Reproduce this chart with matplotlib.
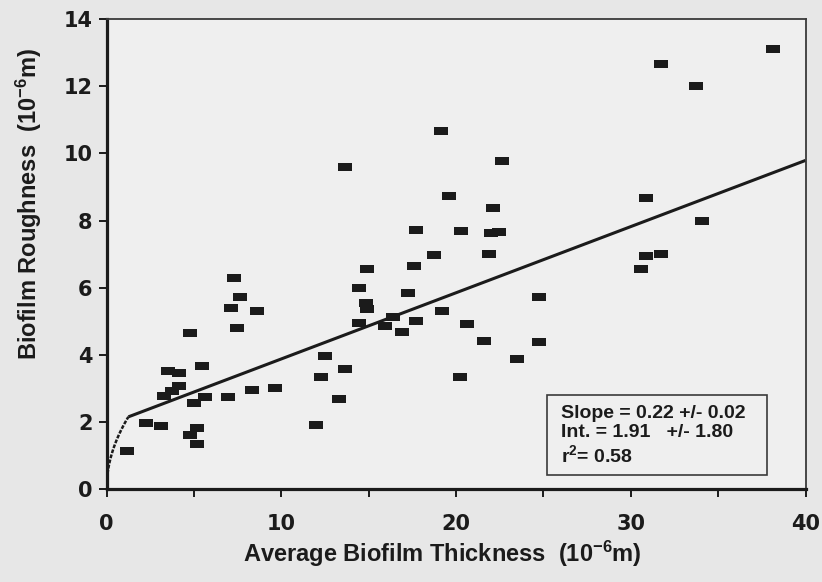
import numpy as np
import matplotlib
matplotlib.use("Agg")
import matplotlib.pyplot as plt
from matplotlib.patches import Rectangle
from matplotlib.path import Path

plt.rcParams["font.family"] = ["Liberation Sans", "DejaVu Sans"]
plt.rcParams["font.weight"] = "bold"
plt.rcParams["axes.labelweight"] = "bold"
plt.rcParams["mathtext.fontset"] = "custom"
plt.rcParams["mathtext.rm"] = "Liberation Sans:bold"
plt.rcParams["mathtext.it"] = "Liberation Sans:bold"
plt.rcParams["mathtext.bf"] = "Liberation Sans:bold"
plt.rcParams["mathtext.default"] = "rm"

# Average biofilm thickness (1e-6 m) and roughness (1e-6 m)
thickness = [1.17, 2.26, 3.11, 3.50, 4.15, 3.31, 3.76, 4.17, 4.78, 4.98, 5.45,
             5.63, 4.76, 5.16, 5.16, 6.97, 7.12, 7.30, 7.63, 7.44, 8.60, 8.31,
             9.64, 11.98, 12.49, 12.30, 13.28, 13.64, 13.66, 14.45, 14.93, 14.83,
             14.93, 14.44, 15.93, 16.41, 16.92, 17.25, 17.72, 17.72, 17.58, 18.74,
             19.15, 19.59, 20.28, 19.20, 20.61, 20.22, 21.58, 21.90, 22.12, 22.00,
             22.45, 22.64, 23.47, 24.76, 24.76, 30.56, 30.88, 30.88, 31.70, 31.74,
             33.74, 34.05, 38.13]
roughness = [1.14, 1.98, 1.89, 3.51, 3.46, 2.77, 2.92, 3.07, 4.64, 2.57, 3.67,
             2.75, 1.61, 1.82, 1.34, 2.74, 5.40, 6.28, 5.72, 4.79, 5.31, 2.95,
             3.01, 1.92, 3.97, 3.35, 2.69, 3.58, 9.58, 5.99, 6.55, 5.56,
             5.36, 4.94, 4.87, 5.12, 4.69, 5.85, 5.01, 7.72, 6.65, 6.97,
             10.68, 8.72, 7.69, 5.30, 4.93, 3.34, 4.42, 6.99, 8.36, 7.64,
             7.66, 9.78, 3.87, 5.73, 4.37, 6.55, 6.94, 8.68, 6.99, 12.66,
             11.99, 7.99, 13.11]

# Fitted trend: straight line above the knee, square-root rise from the origin below it
fit_intercept = 1.91
fit_slope = 0.197
knee_x = 1.25
x_max = 40

stats_lines = ["Slope = 0.22 +/- 0.02", "Int. = 1.91   +/- 1.80", r"r$^{2}$= 0.58"]

x_ticks = [0, 10, 20, 30, 40]
x_minor = [5, 15, 25, 35]
y_ticks = [0, 2, 4, 6, 8, 10, 12, 14]

INK = "#1b1b1b"
TICKFONT = dict(fontfamily="DejaVu Sans", fontweight="bold", fontsize=15, color=INK)

fig = plt.figure(figsize=(8.22, 5.82), dpi=100, facecolor="#e7e7e7")
ax = fig.add_axes([0.1296, 0.1593, 0.8504, 0.8081], facecolor="#efefef")

# rectangular marker, wider than tall
rect = Path([(-1, -0.6), (1, -0.6), (1, 0.6), (-1, 0.6), (-1, -0.6)],
            [Path.MOVETO, Path.LINETO, Path.LINETO, Path.LINETO, Path.CLOSEPOLY])
ax.plot(thickness, roughness, linestyle="none", marker=rect, markersize=9.8,
        color=INK, markeredgewidth=0, zorder=3)

knee_y = fit_intercept + fit_slope * knee_x
xs_curve = np.linspace(0, knee_x, 60)
ax.plot(xs_curve, knee_y * np.sqrt(xs_curve / knee_x), color=INK,
        lw=1.8, linestyle=(0, (1.5, 0.6)), zorder=2)
xs_line = np.array([knee_x, x_max])
ax.plot(xs_line, fit_intercept + fit_slope * xs_line, color=INK,
        lw=2.2, solid_capstyle="butt", zorder=2)

ax.set_xlim(0, 40)
ax.set_ylim(0, 14)
ax.set_xticks(x_ticks, labels=[str(v) for v in x_ticks], **TICKFONT)
ax.set_xticks(x_minor, minor=True)
ax.set_yticks(y_ticks, labels=[str(v) for v in y_ticks], **TICKFONT)
ax.tick_params(axis="both", which="both", direction="out", length=6, width=1.4,
               color=INK)
ax.tick_params(axis="x", pad=12)
ax.tick_params(axis="y", pad=4)

for side in ("left", "bottom"):
    ax.spines[side].set_linewidth(2.3)
    ax.spines[side].set_color(INK)
for side in ("top", "right"):
    ax.spines[side].set_linewidth(1.3)
    ax.spines[side].set_color("#3a3a3a")

ax.set_xlabel(r"Average Biofilm Thickness  (10$^{-6}$m)", fontsize=17,
              fontweight="bold", color=INK, labelpad=3)
ax.set_ylabel(r"Biofilm Roughness  (10$^{-6}$m)", fontsize=17,
              fontweight="bold", color=INK, labelpad=14)
ax.xaxis.label.set_x(0.48)
ax.yaxis.label.set_y(0.607)

# statistics box
ax.add_patch(Rectangle((0.6305, 0.0305), 0.3145, 0.1705, transform=ax.transAxes,
                       facecolor="none", edgecolor="#3a3a3a", lw=1.2, zorder=4))
ax.text(0.65, 0.18, "\n".join(stats_lines), transform=ax.transAxes,
        fontsize=14, fontweight="bold", color=INK, va="top", ha="left",
        linespacing=1.17, zorder=5)

fig.savefig("out.png", dpi=100, facecolor=fig.get_facecolor())
